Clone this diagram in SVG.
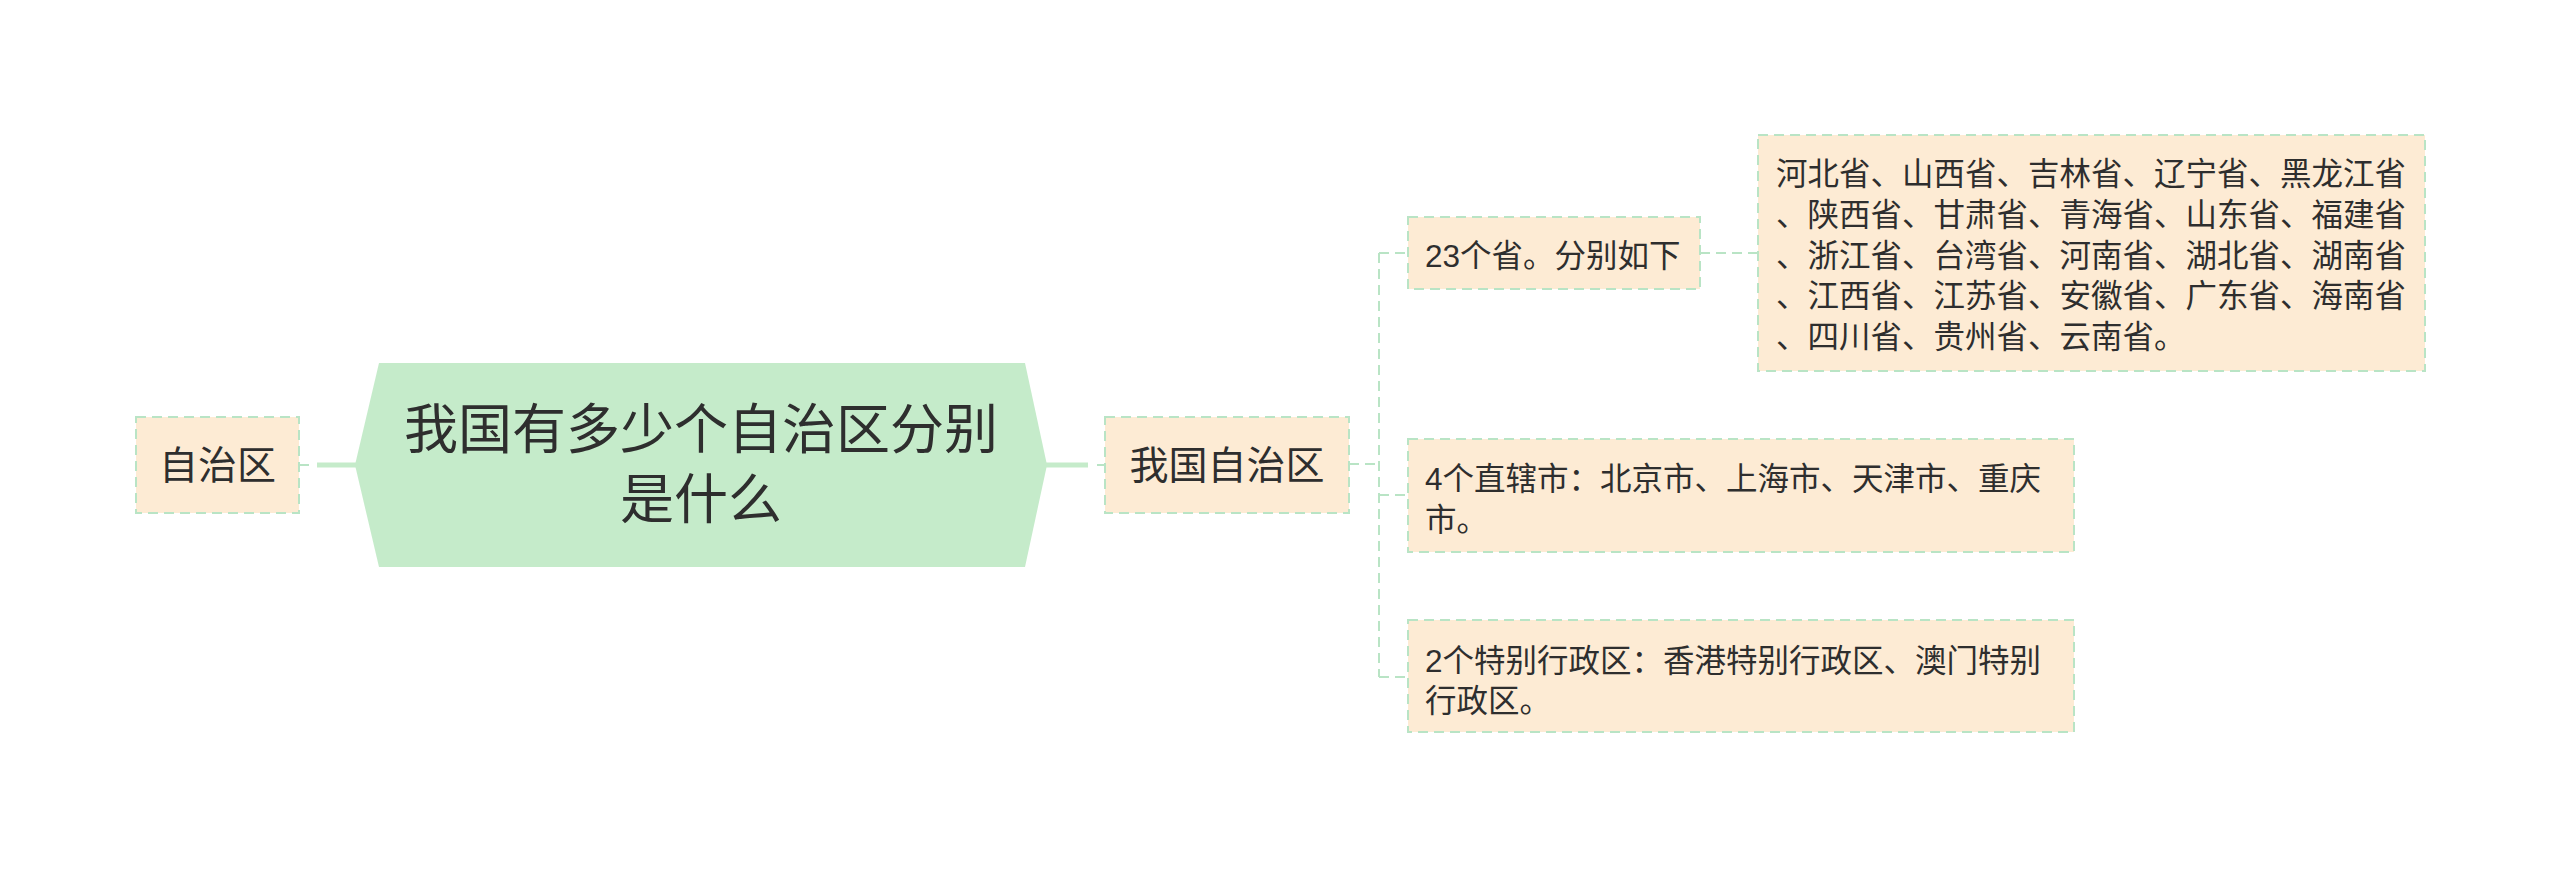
<svg xmlns="http://www.w3.org/2000/svg" width="2560" height="869" viewBox="0 0 2560 869">
<style>
.box{fill:#fdebd4;stroke:#b9e4c5;stroke-width:2;stroke-dasharray:10 6}
.dash{fill:none;stroke:#b9e4c5;stroke-width:2;stroke-dasharray:10 6}
.thick{fill:none;stroke:#c5ebca;stroke-width:5}
text{font-family:"Liberation Sans","Noto Sans CJK SC",sans-serif;fill:#2e2e2e}
.s{font-size:31.5px}
</style>
<rect width="2560" height="869" fill="#ffffff"/>
<g id="connectors">
<line class="dash" x1="299" y1="465" x2="310" y2="465"/>
<line class="thick" x1="317" y1="465" x2="356" y2="465"/>
<line class="thick" x1="1046" y1="465" x2="1088" y2="465"/>
<line class="dash" x1="1097" y1="465" x2="1105" y2="465"/>
<line class="dash" x1="1349" y1="464" x2="1379" y2="464"/>
<line class="dash" x1="1379" y1="253" x2="1379" y2="677"/>
<line class="dash" x1="1379" y1="253" x2="1408" y2="253"/>
<line class="dash" x1="1379" y1="495" x2="1408" y2="495"/>
<line class="dash" x1="1379" y1="677" x2="1408" y2="677"/>
<line class="dash" x1="1700" y1="253" x2="1758" y2="253"/>
</g>
<g id="node-zizhiqu">
<rect class="box" x="136" y="417" width="163" height="96"/>
<text x="217.5" y="479" font-size="39" text-anchor="middle">自治区</text>
</g>
<g id="node-main">
<polygon points="355,465 379,363 1025,363 1047,465 1025,567 379,567" fill="#c5ebca"/>
<text x="701" y="449" font-size="54" text-anchor="middle">我国有多少个自治区分别</text>
<text x="701" y="519" font-size="54" text-anchor="middle">是什么</text>
</g>
<g id="node-woguo">
<rect class="box" x="1105" y="417" width="244" height="96"/>
<text x="1227" y="479" font-size="39" text-anchor="middle">我国自治区</text>
</g>
<g id="node-23">
<rect class="box" x="1408" y="217" width="292" height="72"/>
<text class="s" x="1425" y="267">23个省。分别如下</text>
</g>
<g id="node-provinces">
<rect class="box" x="1758" y="135" width="667" height="236"/>
<text class="s" x="1776" y="185">河北省、山西省、吉林省、辽宁省、黑龙江省</text>
<text class="s" x="1776" y="226">、陕西省、甘肃省、青海省、山东省、福建省</text>
<text class="s" x="1776" y="267">、浙江省、台湾省、河南省、湖北省、湖南省</text>
<text class="s" x="1776" y="307">、江西省、江苏省、安徽省、广东省、海南省</text>
<text class="s" x="1776" y="348">、四川省、贵州省、云南省。</text>
</g>
<g id="node-cities">
<rect class="box" x="1408" y="439" width="666" height="113"/>
<text class="s" x="1425" y="490">4个直辖市：北京市、上海市、天津市、重庆</text>
<text class="s" x="1425" y="531">市。</text>
</g>
<g id="node-sar">
<rect class="box" x="1408" y="620" width="666" height="112"/>
<text class="s" x="1425" y="672">2个特别行政区：香港特别行政区、澳门特别</text>
<text class="s" x="1425" y="712">行政区。</text>
</g>
</svg>
